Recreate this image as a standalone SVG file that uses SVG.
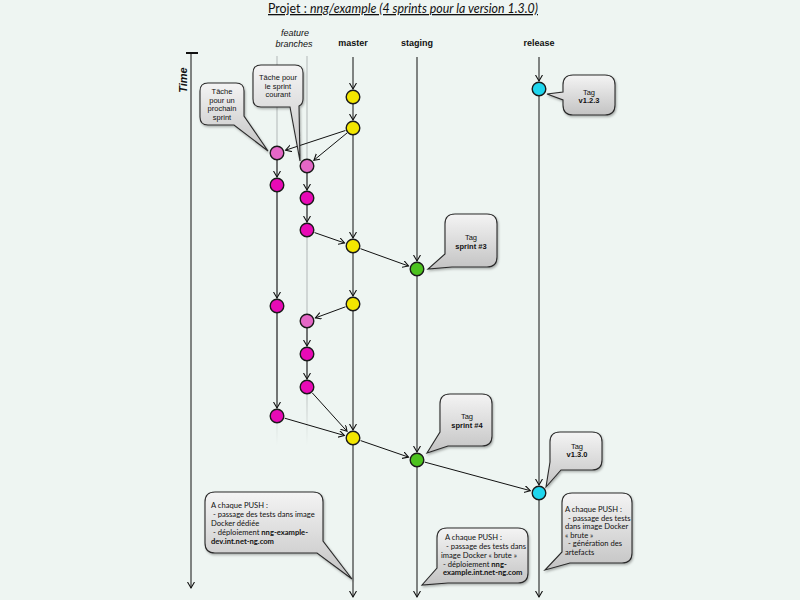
<svg xmlns="http://www.w3.org/2000/svg" width="800" height="600" viewBox="0 0 800 600">
<defs>
<style>
.ln{stroke:#111;stroke-width:1;fill:none}
.a{marker-end:url(#ah)}
.nd{stroke:#1a1a1a;stroke-width:1.4}
.y{fill:#f3e600}.m{fill:#e80ab6}.p{fill:#e467c6}.g{fill:#4cc21e}.c{fill:#1fd6ee}
.co{fill:url(#cg);stroke:#2a2a2a;stroke-width:1.1;filter:url(#sh)}
.t{font-family:"Liberation Sans",Arial,sans-serif;font-size:7.5px;fill:#111;text-anchor:middle}
.tb{font-weight:bold}
.h{font-family:"Liberation Sans",Arial,sans-serif;font-size:9px;font-weight:bold;fill:#111;text-anchor:middle}
.hi{font-family:"Liberation Sans",Arial,sans-serif;font-size:9px;font-style:italic;fill:#111;text-anchor:middle}
.pu{font-family:Lato,"Liberation Sans",sans-serif;font-size:7.6px;fill:#111}
</style>
<marker id="ah" markerUnits="userSpaceOnUse" markerWidth="8" markerHeight="8" refX="6" refY="3.5" orient="auto">
<path d="M0,0 L6,3.5 L0,7" fill="none" stroke="#111" stroke-width="1.1"/>
</marker>
<linearGradient id="cg" x1="0" y1="0" x2="0" y2="1">
<stop offset="0" stop-color="#f4f4f4"/>
<stop offset="1" stop-color="#c3c3c3"/>
</linearGradient>
<linearGradient id="fade" x1="0" y1="57" x2="0" y2="445" gradientUnits="userSpaceOnUse">
<stop offset="0.85" stop-color="#c6cccb"/>
<stop offset="1" stop-color="#c6cccb" stop-opacity="0"/>
</linearGradient>
<filter id="sh" x="-20%" y="-20%" width="140%" height="140%">
<feDropShadow dx="1" dy="1.5" stdDeviation="1.2" flood-color="#000" flood-opacity="0.3"/>
</filter>
</defs>
<rect width="800" height="600" fill="#eef5f2"/>

<g id="title">
<text x="403" y="13" font-family="Lato,'Liberation Sans',sans-serif" font-size="13" text-anchor="middle" text-decoration="underline" fill="#111" textLength="270" lengthAdjust="spacingAndGlyphs">Projet : <tspan font-style="italic">nng/example (4 sprints pour la version 1.3.0)</tspan></text>
</g>

<g id="headers">
<text class="hi" x="295" y="36">feature</text>
<text class="hi" x="294" y="47">branches</text>
<text class="h" x="353" y="46">master</text>
<text class="h" x="417" y="46">staging</text>
<text class="h" x="539" y="46">release</text>
</g>

<g id="time-axis">
<line x1="186" y1="53" x2="198" y2="53" stroke="#111" stroke-width="2"/>
<line class="ln a" x1="191" y1="53" x2="191" y2="588"/>
<text x="0" y="0" transform="translate(187,80) rotate(-90)" font-family="'Liberation Sans',Arial,sans-serif" font-size="11" font-weight="bold" font-style="italic" text-anchor="middle" fill="#111">Time</text>
</g>

<g id="feature-lines">
<line x1="277" y1="56" x2="277" y2="445" stroke="url(#fade)" stroke-width="1.5"/>
<line x1="307" y1="56" x2="307" y2="445" stroke="url(#fade)" stroke-width="1.5"/>
</g>

<g id="connectors">
<line class="ln a" x1="353" y1="57" x2="353" y2="89"/>
<line class="ln a" x1="353" y1="104" x2="353" y2="120"/>
<line class="ln a" x1="353" y1="135" x2="353" y2="238"/>
<line class="ln a" x1="353" y1="253" x2="353" y2="296"/>
<line class="ln a" x1="353" y1="311" x2="353" y2="430"/>
<line class="ln a" x1="353" y1="445" x2="353" y2="597"/>
<line class="ln a" x1="417" y1="57" x2="417" y2="261"/>
<line class="ln a" x1="417" y1="276" x2="417" y2="452"/>
<line class="ln a" x1="417" y1="467" x2="417" y2="597"/>
<line class="ln a" x1="539" y1="57" x2="539" y2="81"/>
<line class="ln a" x1="539" y1="96" x2="539" y2="485"/>
<line class="ln a" x1="539" y1="500" x2="539" y2="597"/>
<line class="ln a" x1="277" y1="160" x2="277" y2="177"/>
<line class="ln a" x1="277" y1="192" x2="277" y2="298"/>
<line class="ln a" x1="277" y1="313" x2="277" y2="408"/>
<line class="ln a" x1="307" y1="173" x2="307" y2="190"/>
<line class="ln a" x1="307" y1="205" x2="307" y2="222"/>
<line class="ln a" x1="307" y1="328" x2="307" y2="346"/>
<line class="ln a" x1="307" y1="361" x2="307" y2="379"/>
<line class="ln a" x1="345.4" y1="130.5" x2="285.6" y2="150.2"/>
<line class="ln a" x1="347" y1="133" x2="313.9" y2="160.2"/>
<line class="ln a" x1="314.6" y1="232.6" x2="344.5" y2="243"/>
<line class="ln a" x1="360.5" y1="248.7" x2="408.5" y2="266"/>
<line class="ln a" x1="345.5" y1="306.8" x2="315.4" y2="317.9"/>
<line class="ln a" x1="284.7" y1="418.2" x2="344.4" y2="435.5"/>
<line class="ln a" x1="312.4" y1="393" x2="347" y2="431.3"/>
<line class="ln a" x1="360.6" y1="440.6" x2="408.5" y2="457.1"/>
<line class="ln a" x1="424.7" y1="462.1" x2="530.3" y2="490.7"/>
</g>

<g id="nodes">
<circle id="m1" class="nd y" cx="353" cy="97" r="6.8"/>
<circle id="m2" class="nd y" cx="353" cy="128" r="6.8"/>
<circle id="m3" class="nd y" cx="353" cy="246" r="6.8"/>
<circle id="m4" class="nd y" cx="353" cy="304" r="6.8"/>
<circle id="m5" class="nd y" cx="353" cy="438" r="6.8"/>
<circle id="s1" class="nd g" cx="417" cy="269" r="6.8"/>
<circle id="s2" class="nd g" cx="417" cy="460" r="6.8"/>
<circle id="r1" class="nd c" cx="539" cy="89" r="6.8"/>
<circle id="r2" class="nd c" cx="539" cy="493" r="6.8"/>
<circle id="f1a" class="nd p" cx="277" cy="153" r="6.8"/>
<circle id="f1b" class="nd m" cx="277" cy="185" r="6.8"/>
<circle id="f1c" class="nd m" cx="277" cy="306" r="6.8"/>
<circle id="f1d" class="nd m" cx="277" cy="416" r="6.8"/>
<circle id="f2a" class="nd p" cx="307" cy="166" r="6.8"/>
<circle id="f2b" class="nd m" cx="307" cy="198" r="6.8"/>
<circle id="f2c" class="nd m" cx="307" cy="230" r="6.8"/>
<circle id="f2d" class="nd p" cx="307" cy="321" r="6.8"/>
<circle id="f2e" class="nd m" cx="307" cy="354" r="6.8"/>
<circle id="f2f" class="nd m" cx="307" cy="387" r="6.8"/>
</g>

<g id="callout-prochain">
<path class="co" d="M208,83 H236 Q244,83 244,91 V116 L268,151 L234,125 H208 Q200,125 200,117 V91 Q200,83 208,83 Z"/>
<text class="t" x="222" y="94">Tâche</text>
<text class="t" x="222" y="102.5">pour un</text>
<text class="t" x="222" y="111">prochain</text>
<text class="t" x="222" y="119.5">sprint</text>
</g>

<g id="callout-courant">
<path class="co" d="M261,65 H295 Q303,65 303,73 V99 Q303,104 299,106 L300,161 L290,107 H261 Q253,107 253,99 V73 Q253,65 261,65 Z"/>
<text class="t" x="278" y="80">Tâche pour</text>
<text class="t" x="278" y="88.5">le sprint</text>
<text class="t" x="278" y="97">courant</text>
</g>

<g id="callout-v123">
<path class="co" d="M573,75 H605 Q615,75 615,85 V105 Q615,115 605,115 H573 Q563,115 563,105 V100 L547,94 L563,92 V85 Q563,75 573,75 Z"/>
<text class="t" x="589" y="95">Tag</text>
<text class="t tb" x="589" y="103">v1.2.3</text>
</g>

<g id="callout-sprint3">
<path class="co" d="M455,214 H487 Q497,214 497,224 V257 Q497,267 487,267 H452 L428,269 L445,254 V224 Q445,214 455,214 Z"/>
<text class="t" x="471" y="240">Tag</text>
<text class="t tb" x="471" y="248.5">sprint #3</text>
</g>

<g id="callout-sprint4">
<path class="co" d="M450,394 H482 Q492,394 492,404 V436 Q492,446 482,446 H448 L427,453 L440,432 V404 Q440,394 450,394 Z"/>
<text class="t" x="467" y="419">Tag</text>
<text class="t tb" x="467" y="427.5">sprint #4</text>
</g>

<g id="callout-v130">
<path class="co" d="M560,432 H592 Q602,432 602,442 V460 Q602,470 592,470 H561 L546,487 L550,462 V442 Q550,432 560,432 Z"/>
<text class="t" x="577" y="449">Tag</text>
<text class="t tb" x="577" y="457">v1.3.0</text>
</g>

<g id="callout-push-dev">
<path class="co" d="M215,492 H313 Q323,492 323,502 V541 L352,579 L317,553 H215 Q205,553 205,543 V502 Q205,492 215,492 Z"/>
<text class="pu" x="211" y="508">A chaque PUSH :</text>
<text class="pu" x="213" y="517">- passage des tests dans image</text>
<text class="pu" x="211" y="525.5">Docker dédiée</text>
<text class="pu" x="213" y="534.5">- déploiement <tspan font-weight="bold">nng-example-</tspan></text>
<text class="pu" x="211" y="543.5" font-weight="bold">dev.int.net-ng.com</text>
</g>

<g id="callout-push-staging">
<path class="co" d="M447,528 H518 Q528,528 528,538 V573 Q528,583 518,583 H448 L422,585 L437,568 V538 Q437,528 447,528 Z"/>
<text class="pu" x="445" y="540">A chaque PUSH :</text>
<text class="pu" x="446" y="549">- passage des tests dans</text>
<text class="pu" x="441" y="557.5">image Docker « brute »</text>
<text class="pu" x="443" y="566.5">- déploiement <tspan font-weight="bold">nng-</tspan></text>
<text class="pu" x="443" y="575" font-weight="bold">example.int.net-ng.com</text>
</g>

<g id="callout-push-release">
<path class="co" d="M572,493 H622 Q632,493 632,503 V553 Q632,563 622,563 H570 L545,570 L562,552 V503 Q562,493 572,493 Z"/>
<text class="pu" x="565" y="512">A chaque PUSH :</text>
<text class="pu" x="568" y="520.5">- passage des tests</text>
<text class="pu" x="565" y="529">dans image Docker</text>
<text class="pu" x="565" y="537.5">« brute »</text>
<text class="pu" x="568" y="546">- génération des</text>
<text class="pu" x="565" y="554.5">artefacts</text>
</g>
</svg>
